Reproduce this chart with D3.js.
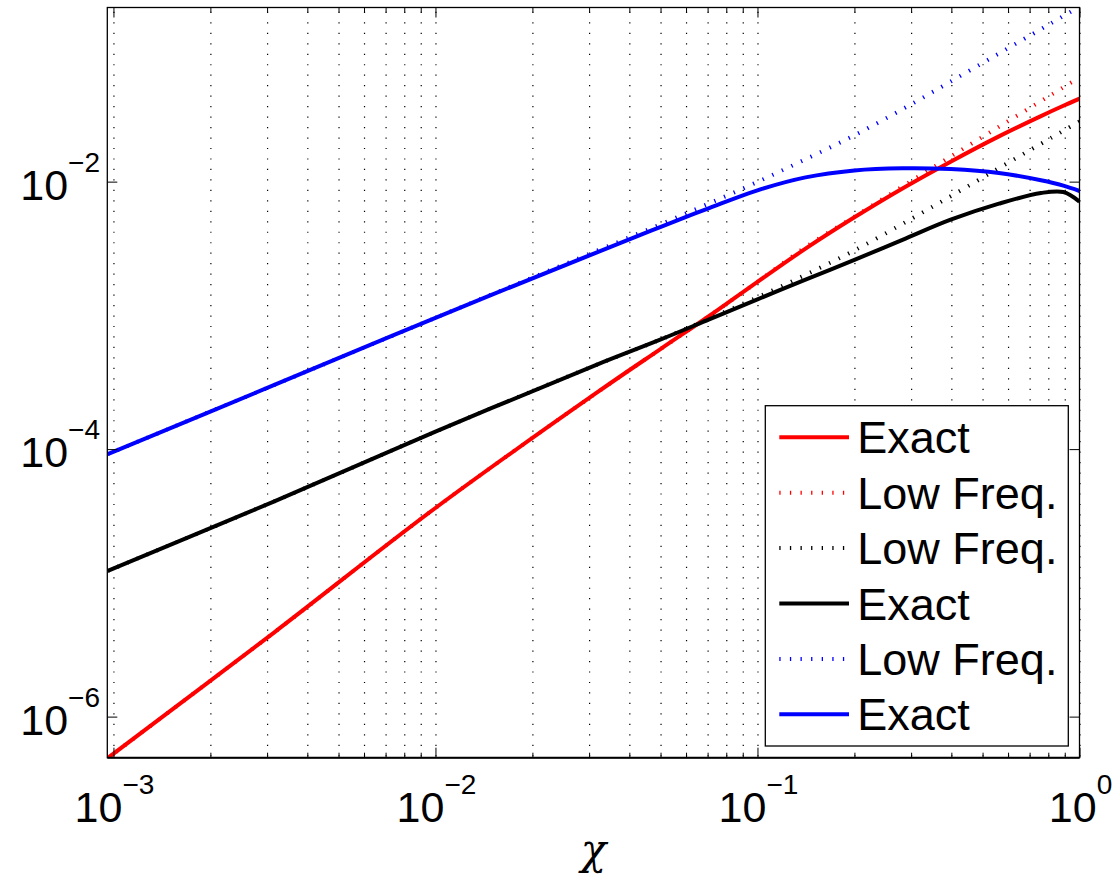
<!DOCTYPE html>
<html>
<head>
<meta charset="UTF-8">
<title>Exact vs Low Freq.</title>
<style>
body { margin: 0; background: #fff; }
svg { display: block; font-family: "Liberation Sans", Arial, Helvetica, sans-serif; }
.axis path, .grid path { display: none; }
.axis line { stroke: #000; stroke-width: 1; }
.grid line { stroke: #000; stroke-width: 1.2; stroke-dasharray: 1.2, 9.27; }
.xlabel { font-family: "DejaVu Serif", "Liberation Serif", serif; font-style: italic; }
</style>
</head>
<body>
<svg id="chart" width="1116" height="878"></svg>

<script src="https://d3js.org/d3.v7.min.js"></script>
<script>
// sample points along chi
const chi = [9.6e-4, 3.16e-3, 0.01, 0.0316, 0.0501, 0.0708, 0.1, 0.141, 0.2, 0.282, 0.398, 0.562, 0.759, 0.891, 1.0];

const redExact   = [4.90e-7, 4.27e-6, 3.63e-5, 2.63e-4, 5.62e-4, 9.89e-4, 1.78e-3, 3.155e-3, 5.41e-3, 8.89e-3, 1.41e-2, 2.18e-2, 3.09e-2, 3.69e-2, 4.17e-2];
const redLow     = [4.90e-7, 4.27e-6, 3.63e-5, 2.63e-4, 5.62e-4, 9.89e-4, 1.78e-3, 3.24e-3, 5.47e-3, 9.20e-3, 1.54e-2, 2.57e-2, 4.00e-2, 5.07e-2, 6.01e-2];
const blackExact = [1.23e-5, 4.07e-5, 1.35e-4, 4.27e-4, 6.61e-4, 9.33e-4, 1.318e-3, 1.85e-3, 2.60e-3, 3.67e-3, 5.19e-3, 6.84e-3, 8.22e-3, 8.36e-3, 7.08e-3];
const blackLow   = [1.23e-5, 4.07e-5, 1.35e-4, 4.27e-4, 6.61e-4, 9.44e-4, 1.365e-3, 2.01e-3, 3.06e-3, 4.83e-3, 7.78e-3, 1.262e-2, 1.92e-2, 2.40e-2, 2.82e-2];
const blueExact  = [9.18e-5, 3.02e-4, 9.59e-4, 2.95e-3, 4.59e-3, 6.34e-3, 8.61e-3, 1.076e-2, 1.213e-2, 1.259e-2, 1.242e-2, 1.161e-2, 1.023e-2, 9.33e-3, 8.51e-3];
const blueLow    = [9.18e-5, 3.02e-4, 9.59e-4, 3.03e-3, 4.81e-3, 6.87e-3, 9.95e-3, 1.47e-2, 2.22e-2, 3.48e-2, 5.60e-2, 9.08e-2, 0.138, 0.173, 0.203];

const xMajor = [1e-3, 1e-2, 1e-1, 1];
const xMajorExp = ["\u22123", "\u22122", "\u22121", "0"];
const yMajor = [1e-6, 1e-4, 1e-2];
const yMajorExp = ["\u22126", "\u22124", "\u22122"];
const xLabel = "\u03c7";

// legend order = draw order
const series = [
  {name: "Exact",     values: redExact,   color: "#ff0000", dotted: false},
  {name: "Low Freq.", values: redLow,     color: "#ff0000", dotted: true},
  {name: "Low Freq.", values: blackLow,   color: "#000000", dotted: true},
  {name: "Exact",     values: blackExact, color: "#000000", dotted: false},
  {name: "Low Freq.", values: blueLow,    color: "#0000ff", dotted: true},
  {name: "Exact",     values: blueExact,  color: "#0000ff", dotted: false}
];

let pLeft = 107.3, pRight = 1079.5, pTop = 7.5, pBottom = 757.7;
let plotW = pRight - pLeft, plotH = pBottom - pTop;

let svg = d3.select("#chart");

let x = d3.scaleLog().domain([9.57e-4, 1]).range([pLeft, pRight]);
let y = d3.scaleLog().domain([4.93e-7, 0.2004]).range([pBottom, pTop]);

// minor ticks 2..9 in every decade
let xMinor = [];
[1e-3, 1e-2, 1e-1].forEach(d => { for (let k = 2; k <= 9; k++) xMinor.push(d * k); });
let xAll = xMajor.concat(xMinor);

// dotted vertical grid
svg.append("g")
    .attr("class", "grid")
    .attr("transform", "translate(0," + pTop + ")")
    .call(d3.axisTop(x).tickValues(xAll).tickSize(-plotH).tickFormat(""))
    .selectAll("line").attr("stroke-dashoffset", -4.3);

// curves
svg.append("clipPath").attr("id", "plotclip")
  .append("rect").attr("x", pLeft).attr("y", pTop).attr("width", plotW).attr("height", plotH);

let line = d3.line()
    .x(d => x(d[0]))
    .y(d => y(d[1]))
    .curve(d3.curveCatmullRom.alpha(0.5));

svg.append("g")
    .attr("clip-path", "url(#plotclip)")
  .selectAll("path")
  .data(series)
  .enter()
  .append("path")
    .attr("d", s => line(chi.map((c, i) => [c, s.values[i]])))
    .attr("fill", "none")
    .attr("stroke", s => s.color)
    .attr("stroke-width", 4)
    .attr("stroke-linejoin", "round")
    .attr("stroke-dasharray", s => s.dotted ? "1.3,9.3" : null);

// ticks (inward) on all four sides
function ticks(axis, tr) {
  svg.append("g").attr("class", "axis").attr("transform", tr).call(axis);
}
ticks(d3.axisBottom(x).tickValues(xMajor).tickSize(-10).tickFormat(""), "translate(0," + pBottom + ")");
ticks(d3.axisBottom(x).tickValues(xMinor).tickSize(-5).tickFormat(""), "translate(0," + pBottom + ")");
ticks(d3.axisTop(x).tickValues(xMajor).tickSize(-10).tickFormat(""), "translate(0," + pTop + ")");
ticks(d3.axisTop(x).tickValues(xMinor).tickSize(-5).tickFormat(""), "translate(0," + pTop + ")");
ticks(d3.axisLeft(y).tickValues(yMajor).tickSize(-10).tickFormat(""), "translate(" + pLeft + ",0)");
ticks(d3.axisRight(y).tickValues(yMajor).tickSize(-10).tickFormat(""), "translate(" + pRight + ",0)");

// box
svg.append("rect")
    .attr("x", pLeft).attr("y", pTop).attr("width", plotW).attr("height", plotH)
    .attr("fill", "none").attr("stroke", "#000").attr("stroke-width", 1.3);
svg.append("line")
    .attr("x1", pLeft).attr("x2", pRight).attr("y1", pBottom).attr("y2", pBottom)
    .attr("stroke", "#000").attr("stroke-width", 2);

// tick labels 10^n
let xl = svg.append("g").selectAll("text").data(xMajor).enter().append("text")
    .attr("x", d => x(d) + 1)
    .attr("y", pBottom + 64)
    .attr("text-anchor", "middle")
    .attr("font-size", 43);
xl.append("tspan").text("10");
xl.append("tspan").attr("dy", -28).attr("font-size", 28).text((d, i) => xMajorExp[i]);

let yl = svg.append("g").selectAll("text").data(yMajor).enter().append("text")
    .attr("x", 100)
    .attr("y", d => y(d) + 18)
    .attr("text-anchor", "end")
    .attr("font-size", 43);
yl.append("tspan").text("10");
yl.append("tspan").attr("dy", -28).attr("font-size", 28).text((d, i) => yMajorExp[i]);

svg.append("text")
    .attr("class", "xlabel")
    .attr("x", (pLeft + pRight) / 2)
    .attr("y", 864)
    .attr("text-anchor", "middle")
    .attr("font-size", 42)
    .text(xLabel);

// legend
let lg = svg.append("g").attr("transform", "translate(765.3,405.7)");
lg.append("rect")
    .attr("width", 303).attr("height", 340.3)
    .attr("fill", "#fff").attr("stroke", "#000").attr("stroke-width", 1.3);

let rows = lg.selectAll("g.row").data(series).enter().append("g")
    .attr("class", "row")
    .attr("transform", (d, i) => "translate(0," + (31.6 + i * 55.4) + ")");
rows.append("line")
    .attr("x1", 14).attr("x2", 83.7)
    .attr("stroke", d => d.color)
    .attr("stroke-width", 4)
    .attr("stroke-dasharray", d => d.dotted ? "1.3,9.3" : null);
rows.append("text")
    .attr("x", 92)
    .attr("y", 16)
    .attr("font-size", 45)
    .text(d => d.name);
</script>
</body>
</html>
